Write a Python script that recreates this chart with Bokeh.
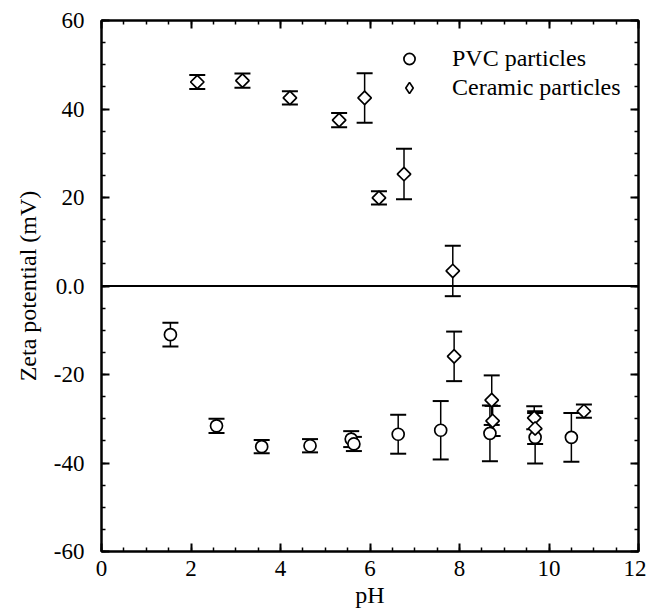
from bokeh.plotting import figure
from bokeh.models import (Range1d, LinearAxis, Span, Legend, LegendItem,
                          CustomJSTickFormatter, FixedTicker, ColumnDataSource)
from bokeh.embed import file_html
from bokeh.resources import INLINE

# ---- data ----
pvc_ph = [1.54, 2.57, 3.58, 4.66, 5.58, 5.64, 6.63, 7.58, 8.68, 9.69, 10.50]
pvc_zeta = [-11.0, -31.6, -36.3, -36.1, -34.6, -35.7, -33.5, -32.6, -33.3, -34.2, -34.2]
pvc_err = [2.7, 1.6, 1.5, 1.5, 1.8, 1.6, 4.4, 6.6, 6.3, 5.9, 5.5]

cer_ph = [2.14, 3.15, 4.21, 5.31, 5.88, 6.20, 6.76, 7.85, 7.88, 8.72, 8.74, 9.67, 9.69, 10.78]
cer_zeta = [46.1, 46.4, 42.5, 37.5, 42.5, 19.9, 25.3, 3.4, -15.9, -25.8, -30.5, -29.8, -32.2, -28.3]
cer_err = [1.6, 1.6, 1.5, 1.6, 5.6, 1.5, 5.7, 5.7, 5.6, 5.6, 3.4, 2.6, 3.5, 1.5]

series_labels = ["PVC particles", "Ceramic particles"]
x_ticks = [0, 2, 4, 6, 8, 10, 12]
y_ticks = [-60, -40, -20, 0, 20, 40, 60]

FONT = "'Liberation Serif', serif"
TICK_FS = "23px"
LABEL_FS = "24px"

p = figure(width=646, height=612, output_backend="svg", toolbar_location=None,
           x_range=Range1d(0, 12), y_range=Range1d(-60, 60),
           min_border_left=101, min_border_right=8, min_border_top=20, min_border_bottom=61)
p.background_fill_color = "white"
p.border_fill_color = "white"
p.grid.visible = False
p.outline_line_color = "black"
p.outline_line_width = 2

x_minor = [i * 0.5 for i in range(25)]
y_minor = list(range(-60, 61, 5))
yfmt = CustomJSTickFormatter(code="return tick == 0 ? '0.0' : tick.toFixed(0);")
blank = CustomJSTickFormatter(code="return '';")

def style(ax):
    ax.axis_line_color = "black"
    ax.axis_line_width = 2
    ax.major_tick_in = 8
    ax.major_tick_out = 0
    ax.minor_tick_in = 4
    ax.minor_tick_out = 0
    ax.major_tick_line_width = 2
    ax.minor_tick_line_width = 1.5
    ax.major_label_text_font = FONT
    ax.major_label_text_font_size = TICK_FS
    ax.major_label_text_color = "black"
    ax.axis_label_text_font = FONT
    ax.axis_label_text_font_size = LABEL_FS
    ax.axis_label_text_font_style = "normal"
    ax.axis_label_text_color = "black"

p.xaxis.ticker = FixedTicker(ticks=x_ticks, minor_ticks=x_minor)
p.yaxis.ticker = FixedTicker(ticks=y_ticks, minor_ticks=y_minor)
p.yaxis.formatter = yfmt
p.xaxis.axis_label = "pH"
p.yaxis.axis_label = "Zeta potential (mV)"
style(p.xaxis[0])
style(p.yaxis[0])
p.xaxis.major_label_standoff = 9
p.yaxis.major_label_standoff = 17
p.xaxis.axis_label_standoff = 3
p.yaxis.axis_label_standoff = 10

top = LinearAxis(ticker=FixedTicker(ticks=x_ticks, minor_ticks=x_minor), formatter=blank)
style(top)
top.major_label_standoff = 0
p.add_layout(top, "above")
right = LinearAxis(ticker=FixedTicker(ticks=y_ticks, minor_ticks=y_minor), formatter=blank)
style(right)
right.major_label_standoff = 0
p.add_layout(right, "right")

p.add_layout(Span(location=0, dimension="width", line_color="black", line_width=1.8))

# error bars
def errbars(xs, ys, es):
    lo = [y - e for y, e in zip(ys, es)]
    hi = [y + e for y, e in zip(ys, es)]
    p.segment(x0=xs, y0=lo, x1=xs, y1=hi, line_color="black", line_width=1.5)
    p.dash(x=xs + xs, y=lo + hi, size=16, line_color="black", line_width=2)

errbars(pvc_ph, pvc_zeta, pvc_err)
errbars(cer_ph, cer_zeta, cer_err)

cer_src = ColumnDataSource(data=dict(x=cer_ph, y=cer_zeta))

# legend key for the ceramic series: legend keys are drawn unrotated and sized by the
# legend box, so this zero-size, hidden-under-the-points renderer only shows in the legend
r_cer_key = p.scatter("x", "y", source=cer_src, marker="diamond", size=0,
                      fill_color="white", line_color="black", line_width=1.7)
r_pvc = p.scatter(pvc_ph, pvc_zeta, marker="circle", size=12, fill_color="white",
                  line_color="black", line_width=1.7)
r_cer = p.scatter("x", "y", source=cer_src, marker="square", angle=45, angle_units="deg",
                  size=9.5, fill_color="white", line_color="black", line_width=1.7)

legend = Legend(items=[LegendItem(label=series_labels[0], renderers=[r_pvc]),
                       LegendItem(label=series_labels[1], renderers=[r_cer_key])],
                location=(294, 449))
legend.background_fill_alpha = 0
legend.border_line_color = None
legend.padding = 0
legend.margin = 0
legend.spacing = 0
legend.glyph_width = 28
legend.glyph_height = 29
legend.label_height = 29
legend.label_standoff = 29
legend.label_text_font = FONT
legend.label_text_font_size = LABEL_FS
legend.label_text_color = "black"
p.add_layout(legend)

open("out.html", "w").write(file_html(p, INLINE))
